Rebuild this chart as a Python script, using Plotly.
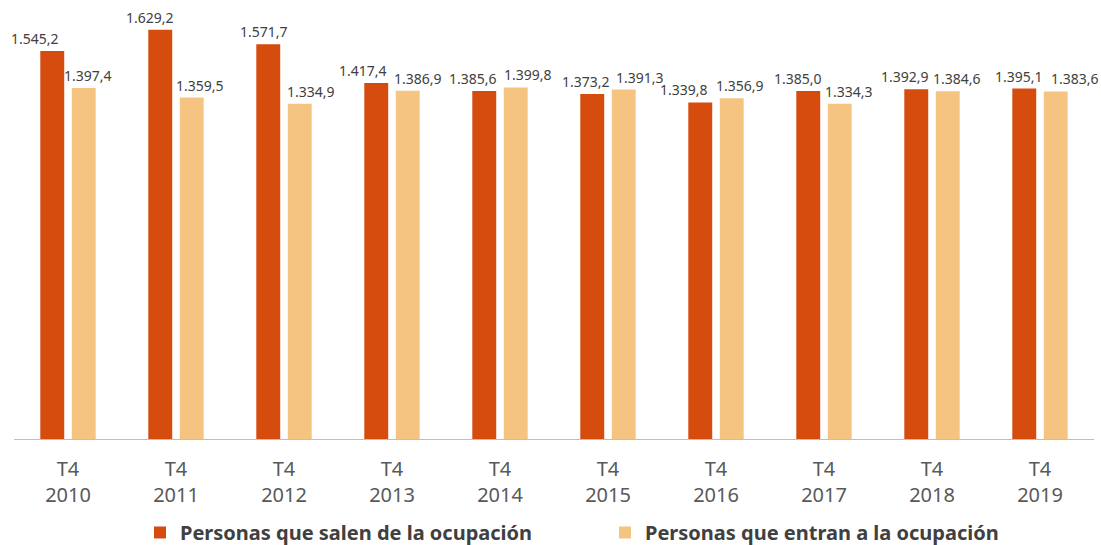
import plotly.graph_objects as go

categories = ["T4<br>2010", "T4<br>2011", "T4<br>2012", "T4<br>2013", "T4<br>2014",
              "T4<br>2015", "T4<br>2016", "T4<br>2017", "T4<br>2018", "T4<br>2019"]
salen = [1545.2, 1629.2, 1571.7, 1417.4, 1385.6, 1373.2, 1339.8, 1385.0, 1392.9, 1395.1]
entran = [1397.4, 1359.5, 1334.9, 1386.9, 1399.8, 1391.3, 1356.9, 1334.3, 1384.6, 1383.6]
series_names = ["Personas que salen de la ocupación", "Personas que entran a la ocupación"]
colors = ["#D64B0E", "#F5C480"]

# horizontal label offsets (px) from the category centre, as placed in the original
label_shift_salen = [-33, -26, -20, -29, -27.5, -22.5, -32.5, -26.5, -27.5, -21.5]
label_shift_entran = [19.5, 23.5, 27, 25.5, 28, 31.5, 24, 24.5, 25, 35]


def fmt(v):
    s = f"{v:,.1f}"
    return s.replace(",", "X").replace(".", ",").replace("X", ".")


fig = go.Figure()
for name, vals, col in zip(series_names, [salen, entran], colors):
    fig.add_trace(go.Bar(
        x=categories, y=vals, name=name, marker=dict(color=col, line=dict(width=0)),
        hovertemplate="%{y:,.1f}<extra>" + name + "</extra>",
    ))

for vals, shifts in [(salen, label_shift_salen), (entran, label_shift_entran)]:
    for cat, v, sh in zip(categories, vals, shifts):
        fig.add_annotation(x=cat, y=v, xref="x", yref="y", text=fmt(v), showarrow=False,
                           xanchor="center", yanchor="bottom", xshift=sh, yshift=1,
                           font=dict(family="Noto Sans", size=14, color="#404040"))

fig.update_layout(
    width=1101, height=545,
    margin=dict(l=14, r=7, t=12, b=106, autoexpand=False),
    barmode="group", bargap=0.417, bargroupgap=0.24,
    separators=",.",
    plot_bgcolor="white", paper_bgcolor="white",
    showlegend=True,
    legend=dict(orientation="h", x=0.5472, xanchor="center", y=-0.2646, yanchor="bottom",
                font=dict(family="Noto Sans", size=20, color="#404040", weight="bold"),
                itemwidth=30, traceorder="normal", entrywidth=420),
    font=dict(family="Noto Sans"),
)
fig.update_xaxes(showline=True, linecolor="#BFBFBF", linewidth=1, ticks="",
                 tickfont=dict(family="Noto Sans", size=20, color="#595959"),
                 ticklabelstandoff=12, showgrid=False,
                 range=[-0.5, len(categories) - 0.5], autorange=False)
fig.update_yaxes(range=[0, 1700], autorange=False, visible=False, showgrid=False)

fig.write_html("out.html", config={"displayModeBar": False},
               post_script="document.body.style.margin='0';document.body.style.overflow='hidden';")
